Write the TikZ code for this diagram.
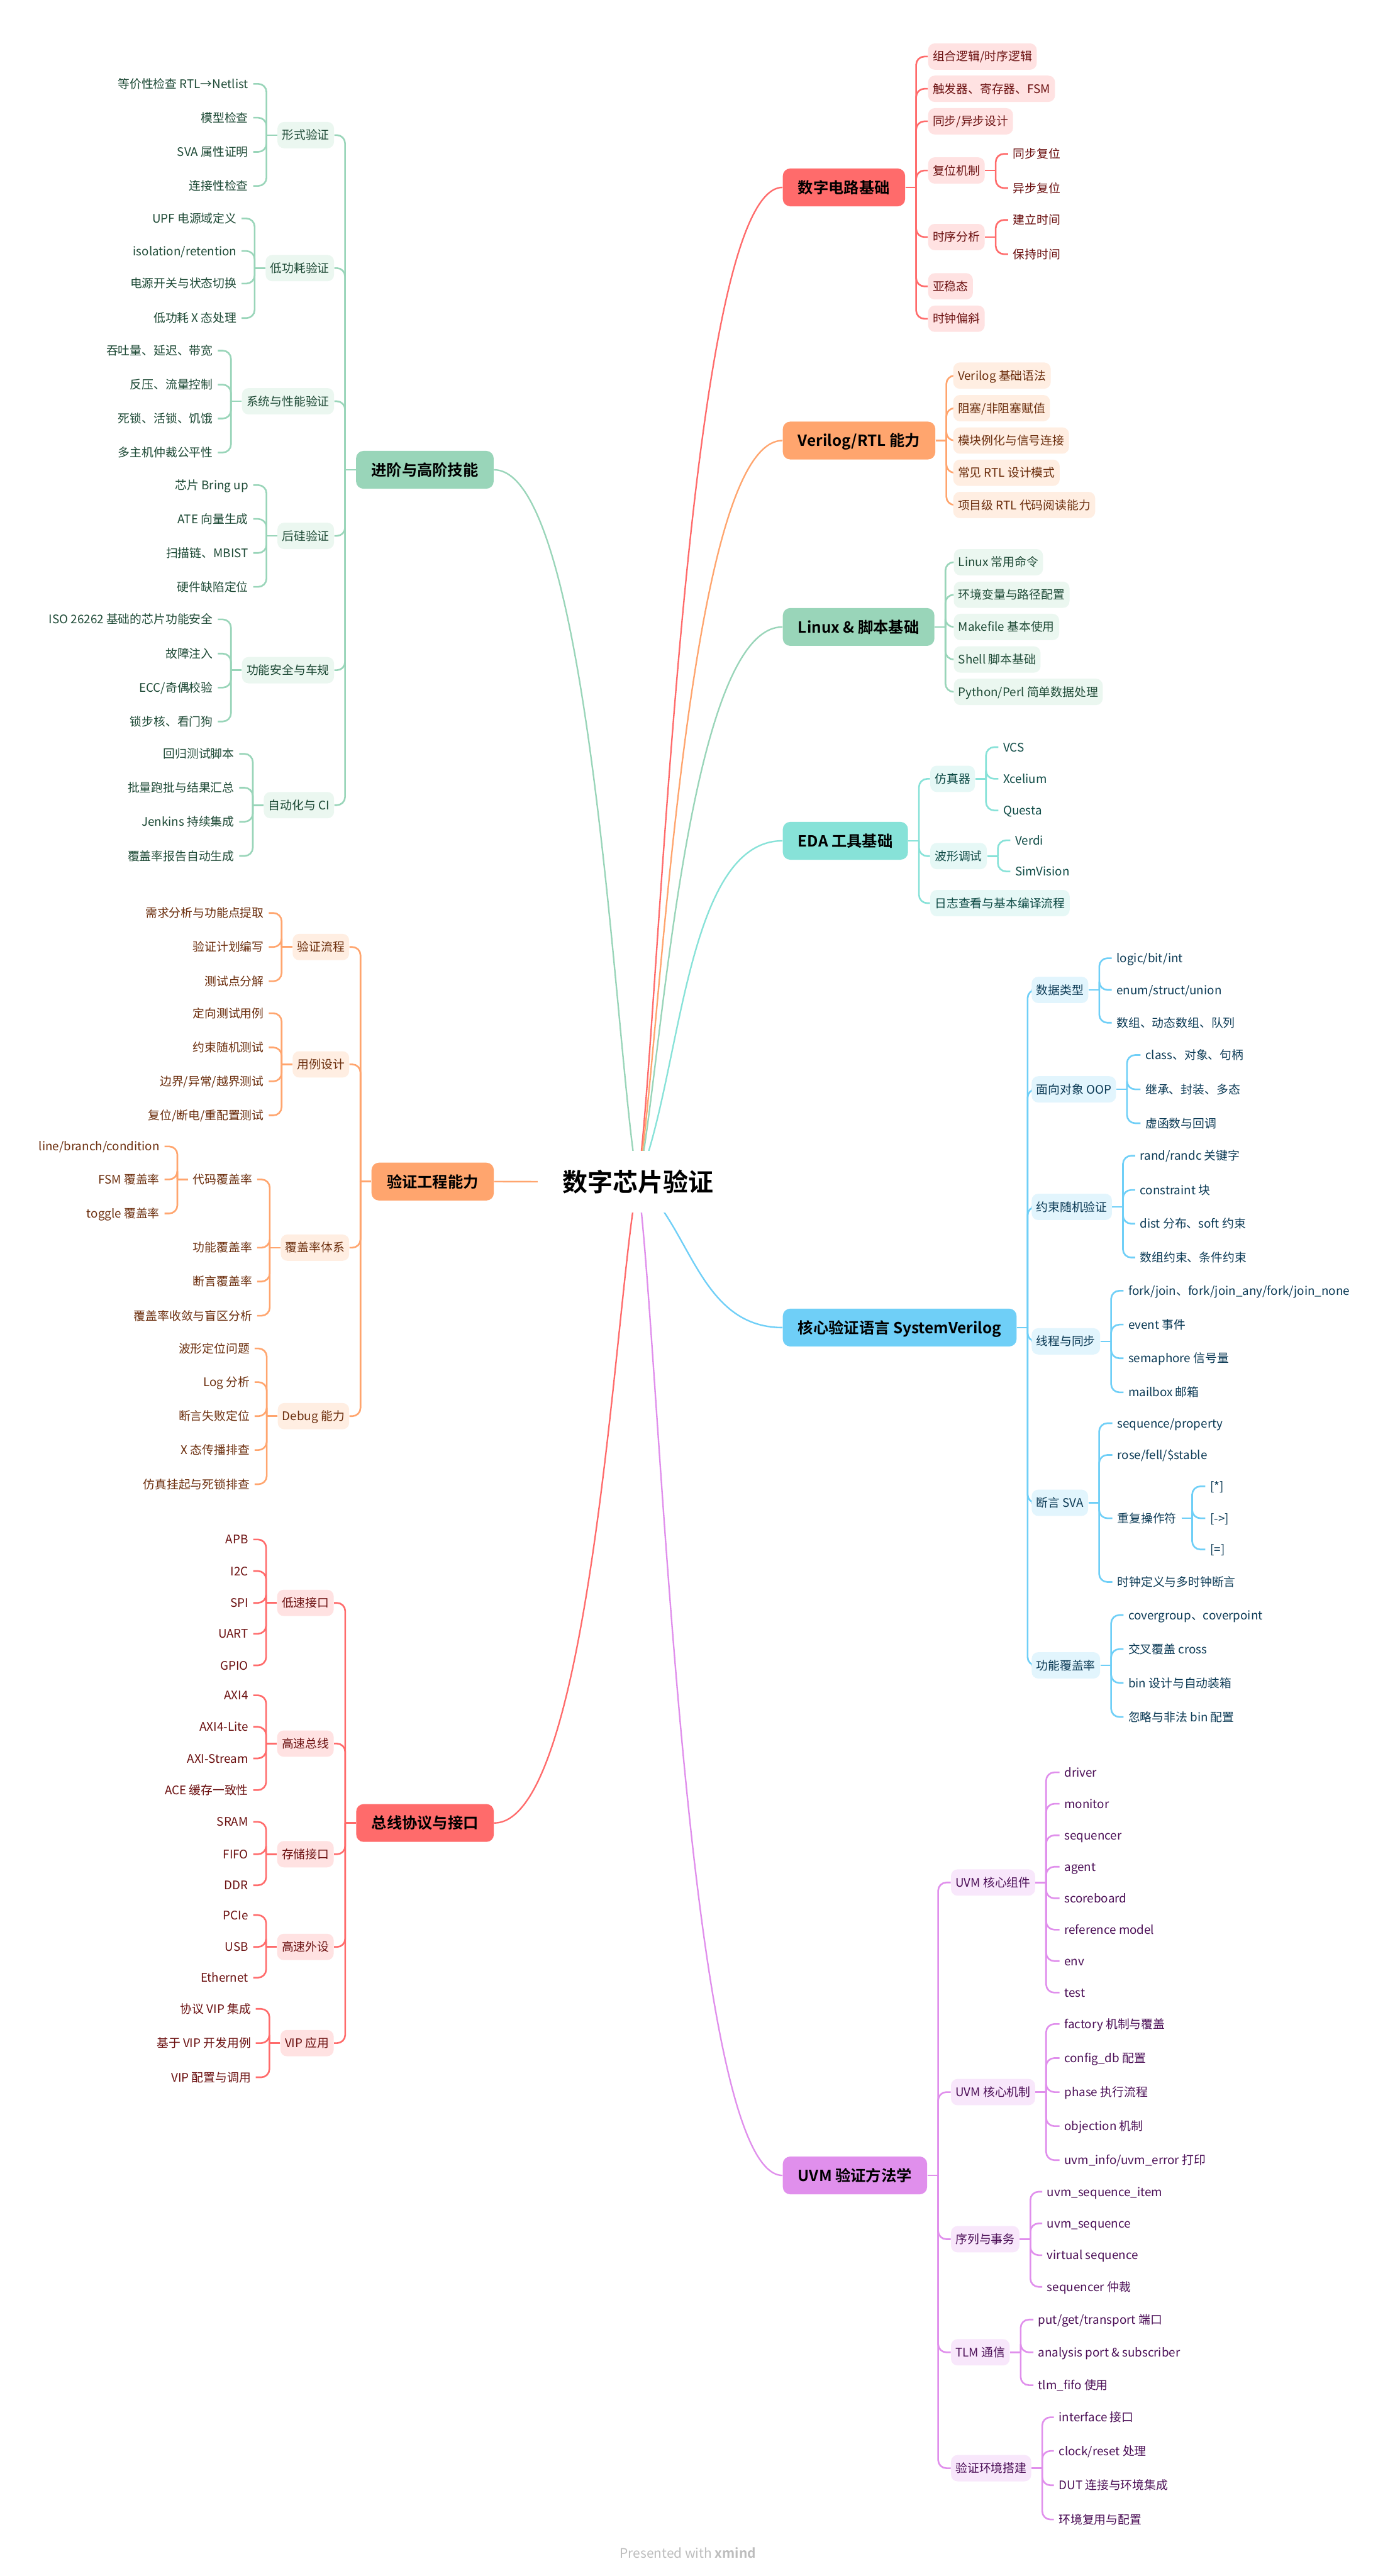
\documentclass[tikz,border=0pt]{standalone}
\usepackage{fontspec}
\setmainfont{Noto Sans CJK SC}[BoldFont={Noto Sans CJK SC Bold}]
\usetikzlibrary{calc}
\pgfdeclarelayer{bg}
\pgfsetlayers{bg,main}
\definecolor{rM}{HTML}{FF6B6B}\definecolor{rL}{HTML}{FFE2E2}\definecolor{rD}{HTML}{6B1010}
\definecolor{oM}{HTML}{FFA56E}\definecolor{oL}{HTML}{FFEEE2}\definecolor{oD}{HTML}{6B2D0C}
\definecolor{gM}{HTML}{99D5B9}\definecolor{gL}{HTML}{EBF7F0}\definecolor{gD}{HTML}{1E4A36}
\definecolor{tM}{HTML}{87E2D8}\definecolor{tL}{HTML}{E6F8F6}\definecolor{tD}{HTML}{0F4B46}
\definecolor{bM}{HTML}{6FCFF7}\definecolor{bL}{HTML}{E2F5FD}\definecolor{bD}{HTML}{0B3A55}
\definecolor{pM}{HTML}{E08FEC}\definecolor{pL}{HTML}{F8E7FB}\definecolor{pD}{HTML}{4B0E56}
\definecolor{footgray}{HTML}{BDBDBD}
\newcommand\lkR[3]{\draw[#1] (#2.east) -- ($(#2.east)+(6.5,0)$);\draw[#1,rounded corners=5pt] ($(#2.east)+(6.5,0)$) |- (#3.west);}
\newcommand\lkL[3]{\draw[#1] (#2.west) -- ($(#2.west)+(-6.5,0)$);\draw[#1,rounded corners=5pt] ($(#2.west)+(-6.5,0)$) |- (#3.east);}
\begin{document}
\begin{tikzpicture}[x=1pt,y=-1pt,
  mainbox/.style={rounded corners=4.5pt, minimum height=23pt, inner xsep=9.3pt, inner ysep=0pt, text height=8.2pt, text depth=1.1pt, font=\bfseries\fontsize{9.3}{11}\selectfont, text=black},
  subbox/.style={rounded corners=4pt, minimum height=16pt, inner xsep=2.8pt, inner ysep=0pt, text height=6.3pt, text depth=0.9pt, font=\fontsize{7.2}{8.6}\selectfont},
  leafnode/.style={inner xsep=2.8pt, inner ysep=1pt, text height=6.3pt, text depth=0.9pt, font=\fontsize{7.2}{8.6}\selectfont},
  aw/.style={anchor=west}, ae/.style={anchor=east},
  rootnode/.style={fill=white, minimum width=122pt, minimum height=37.5pt, inner sep=0pt, text height=13.5pt, text depth=1.8pt, font=\bfseries\fontsize{15.3}{18}\selectfont, text=black},
  mR/.style={mainbox, fill=rM}, sR/.style={subbox, fill=rL, text=rD}, lR/.style={leafnode, text=rD}, cR/.style={draw=rM, line width=1pt},
  mO/.style={mainbox, fill=oM}, sO/.style={subbox, fill=oL, text=oD}, lO/.style={leafnode, text=oD}, cO/.style={draw=oM, line width=1pt},
  mG/.style={mainbox, fill=gM}, sG/.style={subbox, fill=gL, text=gD}, lG/.style={leafnode, text=gD}, cG/.style={draw=gM, line width=1pt},
  mT/.style={mainbox, fill=tM}, sT/.style={subbox, fill=tL, text=tD}, lT/.style={leafnode, text=tD}, cT/.style={draw=tM, line width=1pt},
  mB/.style={mainbox, fill=bM}, sB/.style={subbox, fill=bL, text=bD}, lB/.style={leafnode, text=bD}, cB/.style={draw=bM, line width=1pt},
  mP/.style={mainbox, fill=pM}, sP/.style={subbox, fill=pL, text=pD}, lP/.style={leafnode, text=pD}, cP/.style={draw=pM, line width=1pt},
  curve/.style={line width=0.9pt}
]
\useasboundingbox (0,0) rectangle (837.9,1567.1);

% root
\node[rootnode] (root) at (388,719) {数字芯片验证};

% main nodes
\node[mR,aw] (A) at (476,114) {数字电路基础};
\node[mO,aw] (B) at (476,268) {Verilog/RTL 能力};
\node[mG,aw] (C) at (476,381.4) {Linux \& 脚本基础};
\node[mT,aw] (D) at (476,511.5) {EDA 工具基础};
\node[mB,aw] (E) at (476,807.6) {核心验证语言 SystemVerilog};
\node[mP,aw] (F) at (476,1323.4) {UVM 验证方法学};
\node[mG,ae] (L1) at (300.5,285.8) {进阶与高阶技能};
\node[mO,ae] (L2) at (300.6,718.8) {验证工程能力};
\node[mR,ae] (L3) at (300.6,1109) {总线协议与接口};

% ---- A 数字电路基础
\node[sR,aw] (A1) at (564.4,34.4) {组合逻辑/时序逻辑};
\node[sR,aw] (A2) at (564.4,54) {触发器、寄存器、FSM};
\node[sR,aw] (A3) at (564.4,73.8) {同步/异步设计};
\node[sR,aw] (A4) at (564.4,103.7) {复位机制};
\node[sR,aw] (A5) at (564.4,144.2) {时序分析};
\node[sR,aw] (A6) at (564.4,174.2) {亚稳态};
\node[sR,aw] (A7) at (564.4,193.9) {时钟偏斜};
\node[lR,aw] (A41) at (613.2,93.6) {同步复位};
\node[lR,aw] (A42) at (613.2,114.4) {异步复位};
\node[lR,aw] (A51) at (613.2,133.8) {建立时间};
\node[lR,aw] (A52) at (613.2,154.6) {保持时间};

% ---- B Verilog
\node[sO,aw] (B1) at (579.7,228.5) {Verilog 基础语法};
\node[sO,aw] (B2) at (579.7,248.3) {阻塞/非阻塞赋值};
\node[sO,aw] (B3) at (579.7,268) {模块例化与信号连接};
\node[sO,aw] (B4) at (579.7,287.6) {常见 RTL 设计模式};
\node[sO,aw] (B5) at (579.7,307.2) {项目级 RTL 代码阅读能力};

% ---- C Linux
\node[sG,aw] (C1) at (580,342) {Linux 常用命令};
\node[sG,aw] (C2) at (580,361.8) {环境变量与路径配置};
\node[sG,aw] (C3) at (580,381.4) {Makefile 基本使用};
\node[sG,aw] (C4) at (580,401.2) {Shell 脚本基础};
\node[sG,aw] (C5) at (580,420.9) {Python/Perl 简单数据处理};

% ---- D EDA
\node[sT,aw] (D1) at (565.7,473.8) {仿真器};
\node[sT,aw] (D2) at (565.7,520.8) {波形调试};
\node[sT,aw] (D3) at (565.7,549.4) {日志查看与基本编译流程};
\node[lT,aw] (D11) at (607.3,454.5) {VCS};
\node[lT,aw] (D12) at (607.3,473.8) {Xcelium};
\node[lT,aw] (D13) at (607.3,493) {Questa};
\node[lT,aw] (D21) at (614.6,511.2) {Verdi};
\node[lT,aw] (D22) at (614.6,530.1) {SimVision};

% ---- E SystemVerilog
\node[sB,aw] (E1) at (627.4,602.2) {数据类型};
\node[sB,aw] (E2) at (627.4,662.7) {面向对象 OOP};
\node[sB,aw] (E3) at (627.4,734.2) {约束随机验证};
\node[sB,aw] (E4) at (627.4,816) {线程与同步};
\node[sB,aw] (E5) at (627.4,914.2) {断言 SVA};
\node[sB,aw] (E6) at (627.4,1013.1) {功能覆盖率};
\node[lB,aw] (E11) at (676.3,582.9) {logic/bit/int};
\node[lB,aw] (E12) at (676.3,602.2) {enum/struct/union};
\node[lB,aw] (E13) at (676.3,622.2) {数组、动态数组、队列};
\node[lB,aw] (E21) at (693.8,641.8) {class、对象、句柄};
\node[lB,aw] (E22) at (693.8,662.7) {继承、封装、多态};
\node[lB,aw] (E23) at (693.8,683.3) {虚函数与回调};
\node[lB,aw] (E31) at (690.5,703.1) {rand/randc 关键字};
\node[lB,aw] (E32) at (690.5,723.9) {constraint 块};
\node[lB,aw] (E33) at (690.5,744.4) {dist 分布、soft 约束};
\node[lB,aw] (E34) at (690.5,765) {数组约束、条件约束};
\node[lB,aw] (E41) at (683.4,785.2) {fork/join、fork/join\_any/fork/join\_none};
\node[lB,aw] (E42) at (683.4,805.8) {event 事件};
\node[lB,aw] (E43) at (683.4,826.3) {semaphore 信号量};
\node[lB,aw] (E44) at (683.4,847) {mailbox 邮箱};
\node[lB,aw] (E51) at (676.7,865.8) {sequence/property};
\node[lB,aw] (E52) at (676.7,885.1) {rose/fell/\$stable};
\node[lB,aw] (E53) at (676.7,923.6) {重复操作符};
\node[lB,aw] (E54) at (676.7,962.4) {时钟定义与多时钟断言};
\node[lB,aw] (E531) at (733.2,904.2) {[*]};
\node[lB,aw] (E532) at (733.2,923.6) {[->]};
\node[lB,aw] (E533) at (733.2,942.6) {[=]};
\node[lB,aw] (E61) at (683.4,982.5) {covergroup、coverpoint};
\node[lB,aw] (E62) at (683.4,1003.2) {交叉覆盖 cross};
\node[lB,aw] (E63) at (683.4,1023.8) {bin 设计与自动装箱};
\node[lB,aw] (E64) at (683.4,1044.5) {忽略与非法 bin 配置};

% ---- F UVM
\node[sP,aw] (F1) at (578.3,1145.2) {UVM 核心组件};
\node[sP,aw] (F2) at (578.3,1272.7) {UVM 核心机制};
\node[sP,aw] (F3) at (578.3,1362.2) {序列与事务};
\node[sP,aw] (F4) at (578.3,1431) {TLM 通信};
\node[sP,aw] (F5) at (578.3,1501.5) {验证环境搭建};
\node[lP,aw] (F11) at (644.5,1078.2) {driver};
\node[lP,aw] (F12) at (644.5,1097.3) {monitor};
\node[lP,aw] (F13) at (644.5,1116.5) {sequencer};
\node[lP,aw] (F14) at (644.5,1135.6) {agent};
\node[lP,aw] (F15) at (644.5,1154.8) {scoreboard};
\node[lP,aw] (F16) at (644.5,1173.9) {reference model};
\node[lP,aw] (F17) at (644.5,1193) {env};
\node[lP,aw] (F18) at (644.5,1212.2) {test};
\node[lP,aw] (F21) at (644.5,1231.3) {factory 机制与覆盖};
\node[lP,aw] (F22) at (644.5,1252) {config\_db 配置};
\node[lP,aw] (F23) at (644.5,1272.7) {phase 执行流程};
\node[lP,aw] (F24) at (644.5,1293.4) {objection 机制};
\node[lP,aw] (F25) at (644.5,1314.1) {uvm\_info/uvm\_error 打印};
\node[lP,aw] (F31) at (634,1333.3) {uvm\_sequence\_item};
\node[lP,aw] (F32) at (634,1352.6) {uvm\_sequence};
\node[lP,aw] (F33) at (634,1371.9) {virtual sequence};
\node[lP,aw] (F34) at (634,1391.2) {sequencer 仲裁};
\node[lP,aw] (F41) at (628.6,1411.1) {put/get/transport 端口};
\node[lP,aw] (F42) at (628.6,1431) {analysis port \& subscriber};
\node[lP,aw] (F43) at (628.6,1451) {tlm\_fifo 使用};
\node[lP,aw] (F51) at (641.1,1470.5) {interface 接口};
\node[lP,aw] (F52) at (641.1,1491) {clock/reset 处理};
\node[lP,aw] (F53) at (641.1,1511.9) {DUT 连接与环境集成};
\node[lP,aw] (F54) at (641.1,1532.7) {环境复用与配置};

% ---- L1 进阶与高阶技能
\node[sG,ae] (G1) at (203.4,82.2) {形式验证};
\node[sG,ae] (G2) at (203.4,163.1) {低功耗验证};
\node[sG,ae] (G3) at (203.4,244.1) {系统与性能验证};
\node[sG,ae] (G4) at (203.4,326) {后硅验证};
\node[sG,ae] (G5) at (203.4,407.7) {功能安全与车规};
\node[sG,ae] (G6) at (203.4,489.8) {自动化与 CI};
\node[lG,ae] (G11) at (154,51) {等价性检查 RTL→Netlist};
\node[lG,ae] (G12) at (154,71.6) {模型检查};
\node[lG,ae] (G13) at (154,92.4) {SVA 属性证明};
\node[lG,ae] (G14) at (154,113.1) {连接性检查};
\node[lG,ae] (G21) at (147,132.9) {UPF 电源域定义};
\node[lG,ae] (G22) at (147,152.7) {isolation/retention};
\node[lG,ae] (G23) at (147,172.5) {电源开关与状态切换};
\node[lG,ae] (G24) at (147,193.5) {低功耗 X 态处理};
\node[lG,ae] (G31) at (132.5,213.3) {吞吐量、延迟、带宽};
\node[lG,ae] (G32) at (132.5,234) {反压、流量控制};
\node[lG,ae] (G33) at (132.5,254.6) {死锁、活锁、饥饿};
\node[lG,ae] (G34) at (132.5,275.3) {多主机仲裁公平性};
\node[lG,ae] (G41) at (154,295.1) {芯片 Bring up};
\node[lG,ae] (G42) at (154,315.7) {ATE 向量生成};
\node[lG,ae] (G43) at (154,336.4) {扫描链、MBIST};
\node[lG,ae] (G44) at (154,357) {硬件缺陷定位};
\node[lG,ae] (G51) at (132.5,376.8) {ISO 26262 基础的芯片功能安全};
\node[lG,ae] (G52) at (132.5,397.6) {故障注入};
\node[lG,ae] (G53) at (132.5,418.3) {ECC/奇偶校验};
\node[lG,ae] (G54) at (132.5,438.9) {锁步核、看门狗};
\node[lG,ae] (G61) at (145.5,458.6) {回归测试脚本};
\node[lG,ae] (G62) at (145.5,479.2) {批量跑批与结果汇总};
\node[lG,ae] (G63) at (145.5,499.9) {Jenkins 持续集成};
\node[lG,ae] (G64) at (145.5,520.7) {覆盖率报告自动生成};

% ---- L2 验证工程能力
\node[sO,ae] (H1) at (212.6,576.1) {验证流程};
\node[sO,ae] (H2) at (212.6,647.5) {用例设计};
\node[sO,ae] (H3) at (212.6,759) {覆盖率体系};
\node[sO,ae] (H4) at (212.6,861.5) {Debug 能力};
\node[lO,ae] (H11) at (163.5,555.4) {需求分析与功能点提取};
\node[lO,ae] (H12) at (163.5,576.1) {验证计划编写};
\node[lO,ae] (H13) at (163.5,596.9) {测试点分解};
\node[lO,ae] (H21) at (163.5,616.4) {定向测试用例};
\node[lO,ae] (H22) at (163.5,637.2) {约束随机测试};
\node[lO,ae] (H23) at (163.5,657.8) {边界/异常/越界测试};
\node[lO,ae] (H24) at (163.5,678.5) {复位/断电/重配置测试};
\node[lO,ae] (H31) at (156.4,717.5) {代码覆盖率};
\node[lO,ae] (H32) at (156.4,759) {功能覆盖率};
\node[lO,ae] (H33) at (156.4,779.6) {断言覆盖率};
\node[lO,ae] (H34) at (156.4,800.4) {覆盖率收敛与盲区分析};
\node[lO,ae] (H311) at (100.1,697.4) {line/branch/condition};
\node[lO,ae] (H312) at (100.1,717.5) {FSM 覆盖率};
\node[lO,ae] (H313) at (100.1,738.2) {toggle 覆盖率};
\node[lO,ae] (H41) at (154.9,820.3) {波形定位问题};
\node[lO,ae] (H42) at (154.9,840.8) {Log 分析};
\node[lO,ae] (H43) at (154.9,861.5) {断言失败定位};
\node[lO,ae] (H44) at (154.9,882.1) {X 态传播排查};
\node[lO,ae] (H45) at (154.9,902.9) {仿真挂起与死锁排查};

% ---- L3 总线协议与接口
\node[sR,ae] (K1) at (203.2,975.1) {低速接口};
\node[sR,ae] (K2) at (203.2,1060.7) {高速总线};
\node[sR,ae] (K3) at (203.2,1128) {存储接口};
\node[sR,ae] (K4) at (203.2,1184.4) {高速外设};
\node[sR,ae] (K5) at (203.2,1242.9) {VIP 应用};
\node[lR,ae] (K11) at (154,936.5) {APB};
\node[lR,ae] (K12) at (154,955.7) {I2C};
\node[lR,ae] (K13) at (154,975.1) {SPI};
\node[lR,ae] (K14) at (154,993.9) {UART};
\node[lR,ae] (K15) at (154,1013.1) {GPIO};
\node[lR,ae] (K21) at (154,1031.3) {AXI4};
\node[lR,ae] (K22) at (154,1050.5) {AXI4-Lite};
\node[lR,ae] (K23) at (154,1069.7) {AXI-Stream};
\node[lR,ae] (K24) at (154,1089) {ACE 缓存一致性};
\node[lR,ae] (K31) at (154,1108.3) {SRAM};
\node[lR,ae] (K32) at (154,1128) {FIFO};
\node[lR,ae] (K33) at (154,1146.9) {DDR};
\node[lR,ae] (K41) at (154,1165) {PCIe};
\node[lR,ae] (K42) at (154,1184.4) {USB};
\node[lR,ae] (K43) at (154,1203.1) {Ethernet};
\node[lR,ae] (K51) at (155.6,1222.1) {协议 VIP 集成};
\node[lR,ae] (K52) at (155.6,1242.9) {基于 VIP 开发用例};
\node[lR,ae] (K53) at (155.6,1263.7) {VIP 配置与调用};

% footer
\node[font=\fontsize{8}{9.6}\selectfont, text=footgray, inner sep=0pt] (foot) at (418.5,1553) {Presented with \textbf{xmind}};

\begin{pgfonlayer}{bg}
\fill[white] (0,0) rectangle (837.9,1567.1);
% main curves
\draw[cR,curve] (root.center) .. controls (401.2,628.3) and (416,114) .. (A.west);
\draw[cO,curve] (root.center) .. controls (401.2,651.3) and (416,268) .. (B.west);
\draw[cG,curve] (root.center) .. controls (401.2,668.4) and (416,381.4) .. (C.west);
\draw[cT,curve] (root.center) .. controls (414.4,656.9) and (416,511.5) .. (D.west);
\draw[cB,curve] (root.center) .. controls (420,745) and (425,807.6) .. (E.west);
\draw[cP,curve] (root.center) .. controls (401.2,809.7) and (416,1323.4) .. (F.west);
\draw[cG,curve] (root.center) .. controls (374.8,654) and (360.5,285.8) .. (L1.east);
\draw[cO,curve] (root.center) -- (L2.east);
\draw[cR,curve] (root.center) .. controls (374.9,777.5) and (360.6,1109) .. (L3.east);
% right branches
\foreach \n in {A1,A2,A3,A4,A5,A6,A7} {\lkR{cR}{A}{\n}}
\foreach \n in {A41,A42} {\lkR{cR}{A4}{\n}}
\foreach \n in {A51,A52} {\lkR{cR}{A5}{\n}}
\foreach \n in {B1,B2,B3,B4,B5} {\lkR{cO}{B}{\n}}
\foreach \n in {C1,C2,C3,C4,C5} {\lkR{cG}{C}{\n}}
\foreach \n in {D1,D2,D3} {\lkR{cT}{D}{\n}}
\foreach \n in {D11,D12,D13} {\lkR{cT}{D1}{\n}}
\foreach \n in {D21,D22} {\lkR{cT}{D2}{\n}}
\foreach \n in {E1,E2,E3,E4,E5,E6} {\lkR{cB}{E}{\n}}
\foreach \n in {E11,E12,E13} {\lkR{cB}{E1}{\n}}
\foreach \n in {E21,E22,E23} {\lkR{cB}{E2}{\n}}
\foreach \n in {E31,E32,E33,E34} {\lkR{cB}{E3}{\n}}
\foreach \n in {E41,E42,E43,E44} {\lkR{cB}{E4}{\n}}
\foreach \n in {E51,E52,E53,E54} {\lkR{cB}{E5}{\n}}
\foreach \n in {E531,E532,E533} {\lkR{cB}{E53}{\n}}
\foreach \n in {E61,E62,E63,E64} {\lkR{cB}{E6}{\n}}
\foreach \n in {F1,F2,F3,F4,F5} {\lkR{cP}{F}{\n}}
\foreach \n in {F11,F12,F13,F14,F15,F16,F17,F18} {\lkR{cP}{F1}{\n}}
\foreach \n in {F21,F22,F23,F24,F25} {\lkR{cP}{F2}{\n}}
\foreach \n in {F31,F32,F33,F34} {\lkR{cP}{F3}{\n}}
\foreach \n in {F41,F42,F43} {\lkR{cP}{F4}{\n}}
\foreach \n in {F51,F52,F53,F54} {\lkR{cP}{F5}{\n}}
% left branches
\foreach \n in {G1,G2,G3,G4,G5,G6} {\lkL{cG}{L1}{\n}}
\foreach \n in {G11,G12,G13,G14} {\lkL{cG}{G1}{\n}}
\foreach \n in {G21,G22,G23,G24} {\lkL{cG}{G2}{\n}}
\foreach \n in {G31,G32,G33,G34} {\lkL{cG}{G3}{\n}}
\foreach \n in {G41,G42,G43,G44} {\lkL{cG}{G4}{\n}}
\foreach \n in {G51,G52,G53,G54} {\lkL{cG}{G5}{\n}}
\foreach \n in {G61,G62,G63,G64} {\lkL{cG}{G6}{\n}}
\foreach \n in {H1,H2,H3,H4} {\lkL{cO}{L2}{\n}}
\foreach \n in {H11,H12,H13} {\lkL{cO}{H1}{\n}}
\foreach \n in {H21,H22,H23,H24} {\lkL{cO}{H2}{\n}}
\foreach \n in {H31,H32,H33,H34} {\lkL{cO}{H3}{\n}}
\foreach \n in {H311,H312,H313} {\lkL{cO}{H31}{\n}}
\foreach \n in {H41,H42,H43,H44,H45} {\lkL{cO}{H4}{\n}}
\foreach \n in {K1,K2,K3,K4,K5} {\lkL{cR}{L3}{\n}}
\foreach \n in {K11,K12,K13,K14,K15} {\lkL{cR}{K1}{\n}}
\foreach \n in {K21,K22,K23,K24} {\lkL{cR}{K2}{\n}}
\foreach \n in {K31,K32,K33} {\lkL{cR}{K3}{\n}}
\foreach \n in {K41,K42,K43} {\lkL{cR}{K4}{\n}}
\foreach \n in {K51,K52,K53} {\lkL{cR}{K5}{\n}}
\end{pgfonlayer}
\end{tikzpicture}
\end{document}
